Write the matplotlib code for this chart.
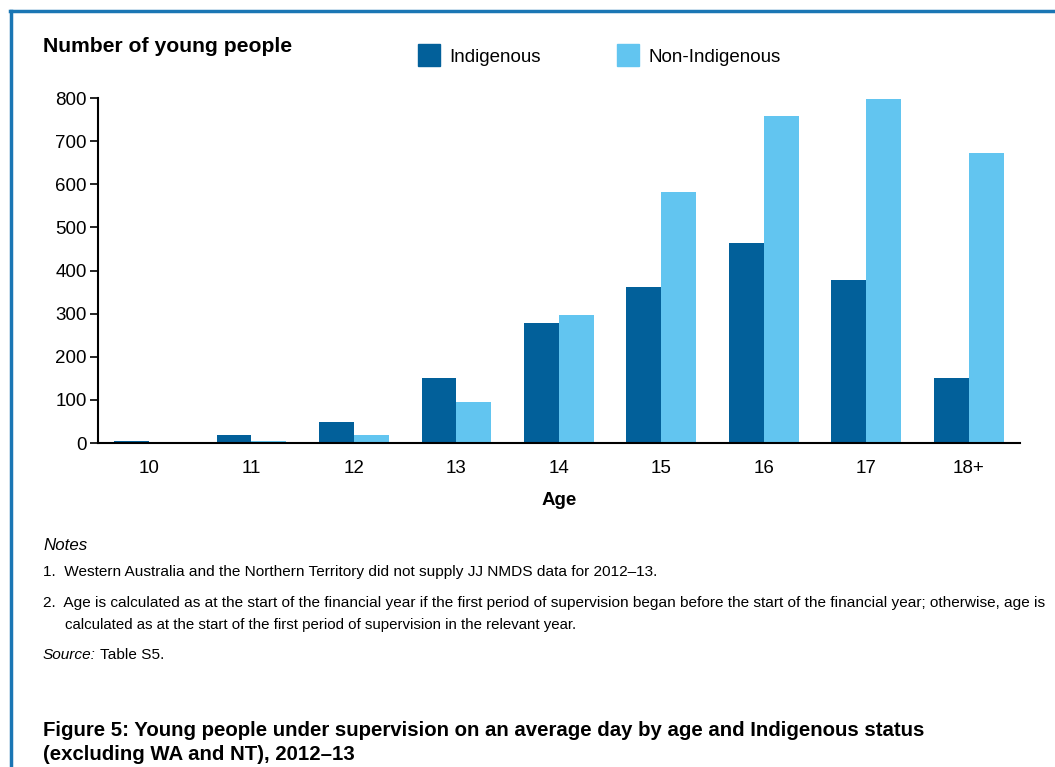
import numpy as np
import matplotlib.pyplot as plt
from matplotlib.patches import Rectangle
from matplotlib.lines import Line2D

# Data
ages = ['10', '11', '12', '13', '14', '15', '16', '17', '18+']
indigenous = [5, 19, 49, 151, 279, 361, 463, 378, 151]
non_indigenous = [2, 5, 19, 96, 296, 583, 758, 797, 673]

dark_blue = '#02609a'
light_blue = '#62c5f0'
frame_blue = '#1a76b4'

plt.rcParams['font.family'] = ['Liberation Sans', 'DejaVu Sans']

W, H = 1055, 767
fig = plt.figure(figsize=(W / 100, H / 100), dpi=100)
ax = fig.add_axes([0.0926, 0.4224, 0.8742, 0.4498])
renderer = fig.canvas.get_renderer()


def px_text(x, y, s, width=None, **kw):
    # place text by pixel coords (from top-left); optionally shrink/grow to a pixel width
    t = fig.text(x / W, 1 - y / H, s, va='center', ha='left', **kw)
    if width is not None:
        cur = t.get_window_extent(renderer).width
        t.set_fontsize(t.get_fontsize() * width / cur)
    return t


x = np.arange(len(ages))
w = 0.34
ax.bar(x - w / 2, indigenous, w, color=dark_blue, label='Indigenous')
ax.bar(x + w / 2, non_indigenous, w, color=light_blue, label='Non-Indigenous')

ax.set_xlim(-0.5, 8.5)
ax.set_ylim(0, 800)
ax.set_yticks(range(0, 801, 100))
ax.set_xticks(x)
ax.set_xticklabels(ages)
ax.tick_params(axis='y', labelsize=13.5, length=6, width=1.2, pad=2)
ax.tick_params(axis='x', labelsize=13.5, length=0, pad=12)
for s in ['top', 'right']:
    ax.spines[s].set_visible(False)
ax.spines['left'].set_linewidth(1.5)
ax.spines['bottom'].set_linewidth(1.5)

ax.set_xlabel('Age', fontsize=13.5, fontweight='bold', labelpad=11)

# Axis title above plot
px_text(43, 47, 'Number of young people', width=248, fontsize=13.5, fontweight='bold')

# Legend
for lx, label, col in [(418, 'Indigenous', dark_blue), (617, 'Non-Indigenous', light_blue)]:
    fig.patches.append(Rectangle((lx / W, 1 - 66 / H), 22 / W, 22 / H,
                                 transform=fig.transFigure, color=col))
    px_text(lx + 31, 57, label, fontsize=13.5)

# Notes
note_fs = 11
px_text(43, 545, 'Notes', width=44, fontsize=note_fs, style='italic')
t1 = px_text(43, 572,
             '1.  Western Australia and the Northern Territory did not supply JJ NMDS data for 2012\u201313.',
             width=615, fontsize=note_fs)
note_fs = t1.get_fontsize()
px_text(43, 603,
        '2.  Age is calculated as at the start of the financial year if the first period of supervision '
        'began before the start of the financial year; otherwise, age is',
        width=997, fontsize=note_fs)
px_text(65, 625,
        'calculated as at the start of the first period of supervision in the relevant year.',
        width=510, fontsize=note_fs)
src = px_text(43, 655, 'Source:', fontsize=note_fs, style='italic')
sw = src.get_window_extent(renderer).width
px_text(43 + sw + 4, 655, 'Table S5.', fontsize=note_fs)

# Figure title
tt = px_text(43, 731,
             'Figure 5: Young people under supervision on an average day by age and Indigenous status',
             width=879, fontsize=16, fontweight='bold')
px_text(43, 755, '(excluding WA and NT), 2012\u201313', fontsize=tt.get_fontsize(), fontweight='bold')

# Frame lines (top and left)
fig.lines.append(Line2D([10 / W, 1], [1 - 11 / H, 1 - 11 / H],
                        transform=fig.transFigure, color=frame_blue, linewidth=2.5))
fig.lines.append(Line2D([11 / W, 11 / W], [0, 1 - 11 / H],
                        transform=fig.transFigure, color=frame_blue, linewidth=2.5))

fig.savefig('out.png', dpi=100)
